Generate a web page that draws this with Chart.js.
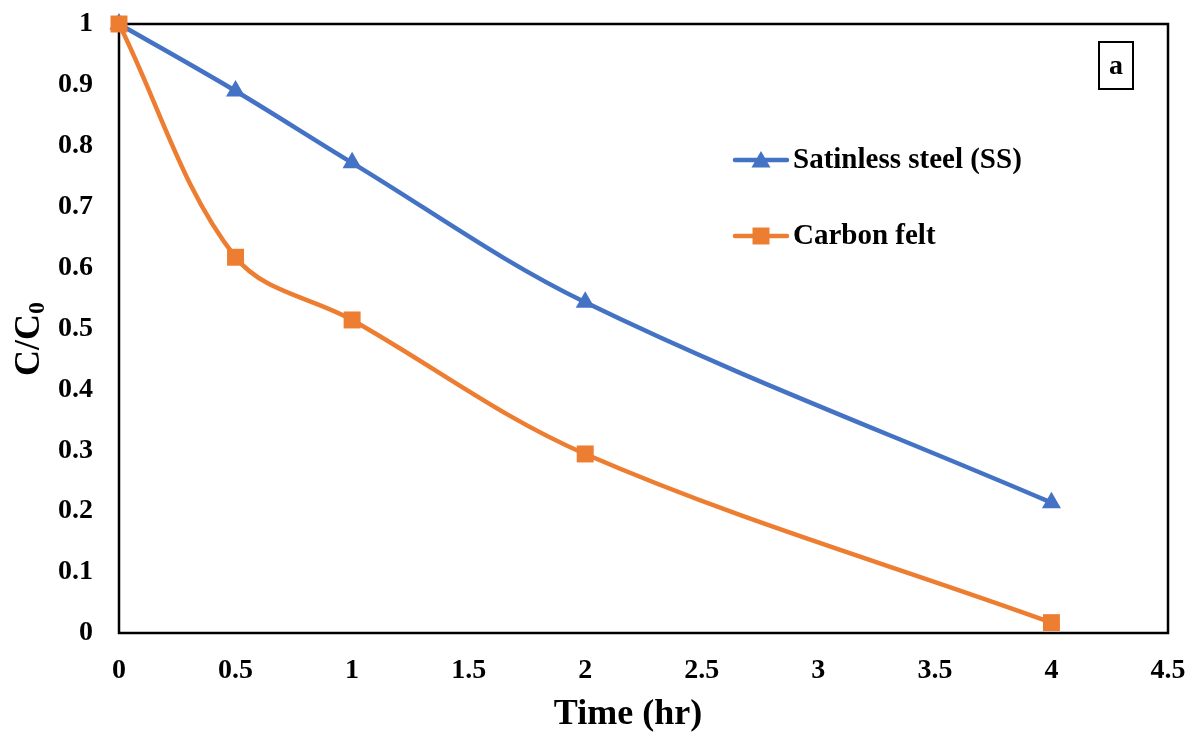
<!DOCTYPE html>
<html>
<head>
<meta charset="utf-8">
<script src="https://cdn.jsdelivr.net/npm/chart.js@4"></script>
<style>
html,body{margin:0;padding:0;background:#fff;}
#wrap{width:1190px;height:732px;position:relative;}
</style>
</head>
<body>
<div id="wrap"><canvas id="c" width="1190" height="732"></canvas></div>
<script>
const timeHr = [0, 0.5, 1, 2, 4];
const stainlessSteel = [1, 0.89, 0.772, 0.543, 0.214];
const carbonFelt = [1, 0.617, 0.514, 0.294, 0.017];
const seriesNames = ['Satinless steel (SS)', 'Carbon felt'];
const xTicks = [0, 0.5, 1, 1.5, 2, 2.5, 3, 3.5, 4, 4.5];
const yTicks = [0, 0.1, 0.2, 0.3, 0.4, 0.5, 0.6, 0.7, 0.8, 0.9, 1];
const xTitle = 'Time (hr)';

const FONT = '"Liberation Serif", "Times New Roman", serif';
const BLUE = '#4472C4', ORANGE = '#ED7D31';

const toPts = arr => timeHr.map((t, i) => ({x: t, y: arr[i]}));

const framePlugin = {
  id: 'frame',
  beforeDatasetsDraw(chart) {
    const a = chart.chartArea, ctx = chart.ctx;
    ctx.save();
    ctx.strokeStyle = '#000';
    ctx.lineWidth = 2.5;
    ctx.strokeRect(a.left, a.top, a.right - a.left, a.bottom - a.top);
    ctx.restore();
  },
  afterDraw(chart) {
    const ctx = chart.ctx, a = chart.chartArea;
    ctx.save();
    // x axis title
    ctx.fillStyle = '#000';
    ctx.font = 'bold 36px ' + FONT;
    ctx.textAlign = 'center'; ctx.textBaseline = 'alphabetic';
    ctx.fillText(xTitle, 628, 724);
    // y axis title C/C0
    ctx.translate(30, 339);
    ctx.rotate(-Math.PI / 2);
    ctx.textBaseline = 'middle';
    const main = 'C/C';
    ctx.font = 'bold 36px ' + FONT;
    const w1 = ctx.measureText(main).width;
    ctx.font = 'bold 24px ' + FONT;
    const w2 = ctx.measureText('0').width;
    const start = -(w1 + w2) / 2;
    ctx.font = 'bold 36px ' + FONT;
    ctx.textAlign = 'left';
    ctx.fillText(main, start, 0);
    ctx.font = 'bold 24px ' + FONT;
    ctx.fillText('0', start + w1, 8);
    ctx.restore();

    // legend
    ctx.save();
    const items = [{c: BLUE, s: 'triangle', y: 160, r: 11}, {c: ORANGE, s: 'rect', y: 236, r: 12}];
    items.forEach((it, i) => {
      ctx.strokeStyle = it.c; ctx.lineWidth = 4.5; ctx.lineCap = 'round';
      ctx.beginPath(); ctx.moveTo(735, it.y); ctx.lineTo(787, it.y); ctx.stroke();
      ctx.fillStyle = it.c;
      Chart.helpers.drawPoint(ctx, {pointStyle: it.s, radius: it.r, rotation: 0, borderWidth: 0}, 761, it.y + (it.s === 'triangle' ? 2 : 0));
      ctx.fillStyle = '#000';
      ctx.font = 'bold 29px ' + FONT;
      ctx.textAlign = 'left'; ctx.textBaseline = 'middle';
      ctx.fillText(seriesNames[i], 793, it.y + 1);
    });
    // "a" box
    ctx.strokeStyle = '#000'; ctx.lineWidth = 2;
    ctx.strokeRect(1099, 42, 34, 47);
    ctx.font = 'bold 28px ' + FONT;
    ctx.textAlign = 'center'; ctx.textBaseline = 'middle';
    ctx.fillText('a', 1116, 67);
    ctx.restore();
  }
};

new Chart(document.getElementById('c'), {
  type: 'line',
  data: {
    datasets: [
      {label: seriesNames[0], data: toPts(stainlessSteel), borderColor: BLUE, backgroundColor: BLUE, order: 1,
       borderWidth: 4.5, pointStyle: 'triangle', pointRadius: 11, pointBorderWidth: 0, tension: 0.35, clip: false},
      {label: seriesNames[1], data: toPts(carbonFelt), borderColor: ORANGE, backgroundColor: ORANGE, order: 0,
       borderWidth: 4.5, pointStyle: 'rect', pointRadius: 12, pointBorderWidth: 0, tension: 0.35, clip: false}
    ]
  },
  options: {
    responsive: false,
    animation: false,
    devicePixelRatio: 1,
    layout: {padding: {left: 0, top: 24, right: 22, bottom: 0}},
    plugins: {legend: {display: false}, tooltip: {enabled: false}},
    scales: {
      x: {
        type: 'linear', min: 0, max: 4.5,
        afterBuildTicks: s => { s.ticks = xTicks.map(v => ({value: v})); },
        afterFit: s => { s.height = 99; s.paddingLeft = 0; s.paddingRight = 0; },
        grid: {display: false, drawTicks: false},
        border: {display: false},
        ticks: {color: '#000', padding: 21, font: {family: FONT, size: 28, weight: 'bold'}, maxRotation: 0, autoSkip: false,
                callback: v => String(v)},
        title: {display: false}
      },
      y: {
        type: 'linear', min: 0, max: 1,
        afterBuildTicks: s => { s.ticks = yTicks.map(v => ({value: v})); },
        afterFit: s => { s.width = 119; s.paddingTop = 0; s.paddingBottom = 0; },
        grid: {display: false, drawTicks: false},
        border: {display: false},
        ticks: {color: '#000', padding: 26, font: {family: FONT, size: 28, weight: 'bold'}, autoSkip: false,
                callback: v => String(v)}
      }
    }
  },
  plugins: [framePlugin]
});
</script>
</body>
</html>
